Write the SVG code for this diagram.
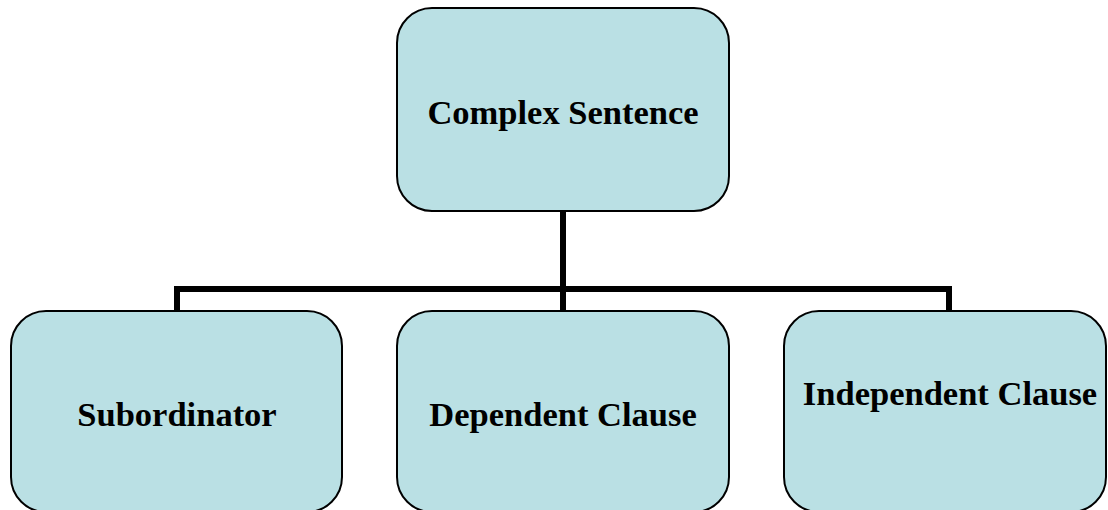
<svg xmlns="http://www.w3.org/2000/svg" width="1108" height="510" viewBox="0 0 1108 510">
<style>
.box{fill:#BAE0E4;stroke:#000;stroke-width:2}
.lbl{font-family:"Liberation Serif","Times New Roman",serif;font-weight:bold;font-size:34.5px;fill:#000;text-anchor:middle}
.conn{fill:none;stroke:#000;stroke-width:6;stroke-linejoin:miter;stroke-linecap:butt}
</style>
<rect width="1108" height="510" fill="#fff"/>
<g id="connectors">
<path class="conn" d="M563 211 V311"/>
<path class="conn" d="M177 311 V289 H949 V311"/>
</g>
<g id="complex-sentence">
<rect class="box" x="397" y="8" width="332" height="203" rx="35" ry="35"/>
<text class="lbl" x="563" y="124">Complex Sentence</text>
</g>
<g id="subordinator">
<rect class="box" x="11" y="311" width="331" height="201" rx="35" ry="35"/>
<text class="lbl" x="177" y="426">Subordinator</text>
</g>
<g id="dependent-clause">
<rect class="box" x="397" y="311" width="332" height="201" rx="35" ry="35"/>
<text class="lbl" x="563" y="426">Dependent Clause</text>
</g>
<g id="independent-clause">
<rect class="box" x="784" y="311" width="322" height="201" rx="35" ry="35"/>
<text class="lbl" x="950" y="405">Independent Clause</text>
</g>
</svg>
